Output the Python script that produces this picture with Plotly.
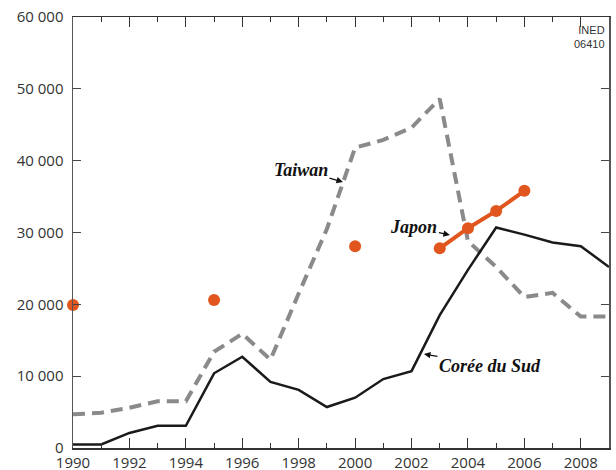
import plotly.graph_objects as go

years = list(range(1990, 2010))

coree_du_sud = [500, 500, 2100, 3100, 3100, 10400, 12700, 9200, 8100, 5700,
                7000, 9600, 10700, 18500, 24800, 30700, 29700, 28600, 28100, 25200]

taiwan = [4700, 4900, 5600, 6500, 6500, 13400, 15900, 12300, 21500, 30500,
          41800, 42900, 44600, 48600, 28800, 25200, 21000, 21600, 18300, 18300]

japon = [19900, None, None, None, None, 20600, None, None, None, None,
         28100, None, None, 27800, 30600, 33000, 35800, None, None, None]

y_ticks = [0, 10000, 20000, 30000, 40000, 50000, 60000]
x_ticks = list(range(1990, 2010, 2))

ORANGE = "#E0561E"
GRAY = "#8a8a8c"
BLACK = "#1a1a1a"
TICK_FONT = dict(family="Open Sans, sans-serif", size=15, color="#333")

fig = go.Figure()

fig.add_trace(go.Scatter(
    x=years, y=taiwan, mode="lines",
    line=dict(color=GRAY, width=4, dash="12px,7px"),
    hoverinfo="skip", showlegend=False))

fig.add_trace(go.Scatter(
    x=years, y=coree_du_sud, mode="lines",
    line=dict(color=BLACK, width=2.5),
    hoverinfo="skip", showlegend=False))

fig.add_trace(go.Scatter(
    x=years, y=japon, mode="lines+markers", connectgaps=False,
    line=dict(color=ORANGE, width=4),
    marker=dict(color=ORANGE, size=12),
    hoverinfo="skip", showlegend=False, cliponaxis=False))

label_font = dict(family="Liberation Serif, serif", size=18, color="#111",
                  style="italic", weight="bold")

annots = [
    dict(x=1999.57, y=37030, text="Taiwan", ax=-42, ay=-12),
    dict(x=2003.36, y=29650, text="Japon", ax=-36, ay=-8),
    dict(x=2002.44, y=13086, text="Corée du Sud", ax=66, ay=12),
]
for a in annots:
    fig.add_annotation(x=a["x"], y=a["y"], text=a["text"], ax=a["ax"], ay=a["ay"],
                       xref="x", yref="y", showarrow=True, arrowhead=2,
                       arrowsize=1, arrowwidth=1.3, arrowcolor="#111",
                       font=label_font)

fig.add_annotation(x=1, y=1, xref="paper", yref="paper", xanchor="right", yanchor="top",
                   xshift=-2, yshift=-5, showarrow=False, align="right",
                   text="INED<br>06410",
                   font=dict(family="Liberation Sans Narrow, Arial Narrow, sans-serif",
                             size=11, color="#333"))

fig.update_layout(
    width=616, height=470,
    margin=dict(l=73, r=7, t=17, b=22),
    paper_bgcolor="white", plot_bgcolor="white",
    separators=". ",
    font=dict(family="Open Sans, sans-serif", size=15, color="#333"),
    showlegend=False,
)

fig.update_xaxes(
    range=[1990, 2009], tickvals=x_ticks, ticktext=[str(v) for v in x_ticks],
    ticks="inside", ticklen=10, tickwidth=1, tickcolor="#333",
    minor=dict(dtick=1, tick0=1990, ticks="inside", ticklen=5, tickwidth=1, tickcolor="#333"),
    showline=True, linecolor="#333", linewidth=1.5, mirror="ticks",
    showgrid=False, zeroline=False, fixedrange=True, automargin=False,
    tickfont=TICK_FONT, ticklabelstandoff=0,
)

fig.update_yaxes(
    range=[0, 60000], tickvals=y_ticks, tickformat=",d",
    ticks="inside", ticklen=8, tickwidth=1, tickcolor="#444",
    showline=True, linecolor="#555", linewidth=1.5, mirror="ticks",
    showgrid=False, zeroline=False, fixedrange=True, automargin=False,
    tickfont=TICK_FONT, ticklabelstandoff=5,
)

fig.write_html("out.html", config={"displayModeBar": False, "staticPlot": True},
               post_script="document.body.style.margin='0';document.body.style.overflow='hidden';")
